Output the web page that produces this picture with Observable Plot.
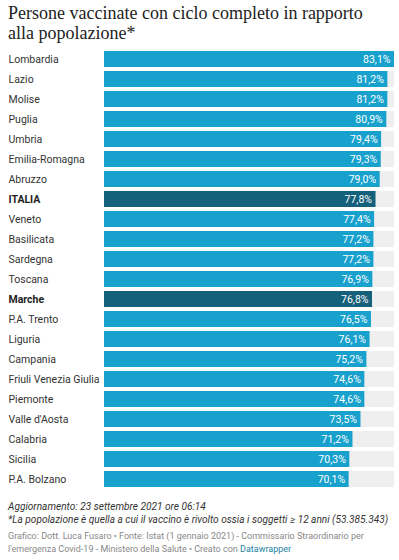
<!DOCTYPE html>
<html><head><meta charset="utf-8">
<script src="https://cdn.jsdelivr.net/npm/d3@7"></script>
<script src="https://cdn.jsdelivr.net/npm/@observablehq/plot@0.6"></script>
<style>
body{margin:0;background:#fff;width:399px;overflow:hidden;}
#title{font-family:"Liberation Serif",serif;font-size:18px;line-height:20px;color:#222;padding:3px 8px 0 8px;height:38px;white-space:nowrap;}
#title span{display:block;transform-origin:0 0;}
#chart svg{display:block;}
#notes{font-family:Roboto,sans-serif;color:#333;font-size:10.1px;font-style:italic;padding:0 8px;line-height:13px;margin-top:7px;white-space:nowrap;}
#source{font-family:Roboto,sans-serif;color:#888;font-size:9px;padding:0 8px;line-height:13px;margin-top:4px;white-space:nowrap;}
#source a{color:#1d81a2;text-decoration:none;}
</style></head>
<body>
<div id="title"><span id="t1">Persone vaccinate con ciclo completo in rapporto</span><span id="t2">alla popolazione*</span></div>
<div id="chart"></div>
<div id="notes">Aggiornamento: 23 settembre 2021 ore 06:14<br>*La popolazione è quella a cui il vaccino è rivolto ossia i soggetti ≥ 12 anni (53.385.343)</div>
<div id="source">Grafico: Dott. Luca Fusaro • Fonte: Istat (1 gennaio 2021) - Commissario Straordinario per<br>l'emergenza Covid-19 - Ministero della Salute • Creato con <a>Datawrapper</a></div>
<script>
const regions = ["Lombardia","Lazio","Molise","Puglia","Umbria","Emilia-Romagna","Abruzzo","ITALIA","Veneto","Basilicata","Sardegna","Toscana","Marche","P.A. Trento","Liguria","Campania","Friuli Venezia Giulia","Piemonte","Valle d'Aosta","Calabria","Sicilia","P.A. Bolzano"];
const values = [83.1,81.2,81.2,80.9,79.4,79.3,79.0,77.8,77.4,77.2,77.2,76.9,76.8,76.5,76.1,75.2,74.6,74.6,73.5,71.2,70.3,70.1];
const highlighted = ["ITALIA","Marche"];
const data = regions.map((r,i)=>({region:r, value:values[i], hl: highlighted.includes(r)}));
const maxV = d3.max(values);
const fmt = v => v.toFixed(1).replace(".", ",") + "%";

// fit the serif title to the reference line width
const t1 = document.getElementById("t1"), t2 = document.getElementById("t2");
const range = document.createRange(); range.selectNodeContents(t1);
const w = range.getBoundingClientRect().width;
const s = Math.min(1, 373 / w);
t1.style.transform = `scaleX(${s})`; t2.style.transform = `scaleX(${s})`;

const plot = Plot.plot({
  width: 399, height: 452,
  marginLeft: 104, marginRight: 5, marginTop: 5, marginBottom: 1,
  x: {domain:[0,maxV], axis:null},
  y: {domain: regions, axis:null, padding:0},
  style: {fontFamily:"Roboto, sans-serif", fontSize:"10.5px"},
  marks: [
    Plot.barX(data, {y:"region", x1:0, x2:maxV, fill:"#efefef", insetTop:2, insetBottom:2}),
    Plot.barX(data, {y:"region", x:"value", fill:d=>d.hl?"#15607a":"#18a1cd", insetTop:2, insetBottom:2}),
    Plot.text(data, {y:"region", x:"value", text:d=>fmt(d.value), textAnchor:"end", dx:-4, fill:"white", fontSize:10.5}),
    Plot.text(data.filter(d=>!d.hl), {y:"region", x:0, text:"region", textAnchor:"start", dx:-96, fill:"#333", fontSize:10.5}),
    Plot.text(data.filter(d=>d.hl), {y:"region", x:0, text:"region", textAnchor:"start", dx:-96, fill:"#222", fontSize:10.5, fontWeight:"bold"})
  ]
});
document.getElementById("chart").appendChild(plot);
</script>
</body></html>
